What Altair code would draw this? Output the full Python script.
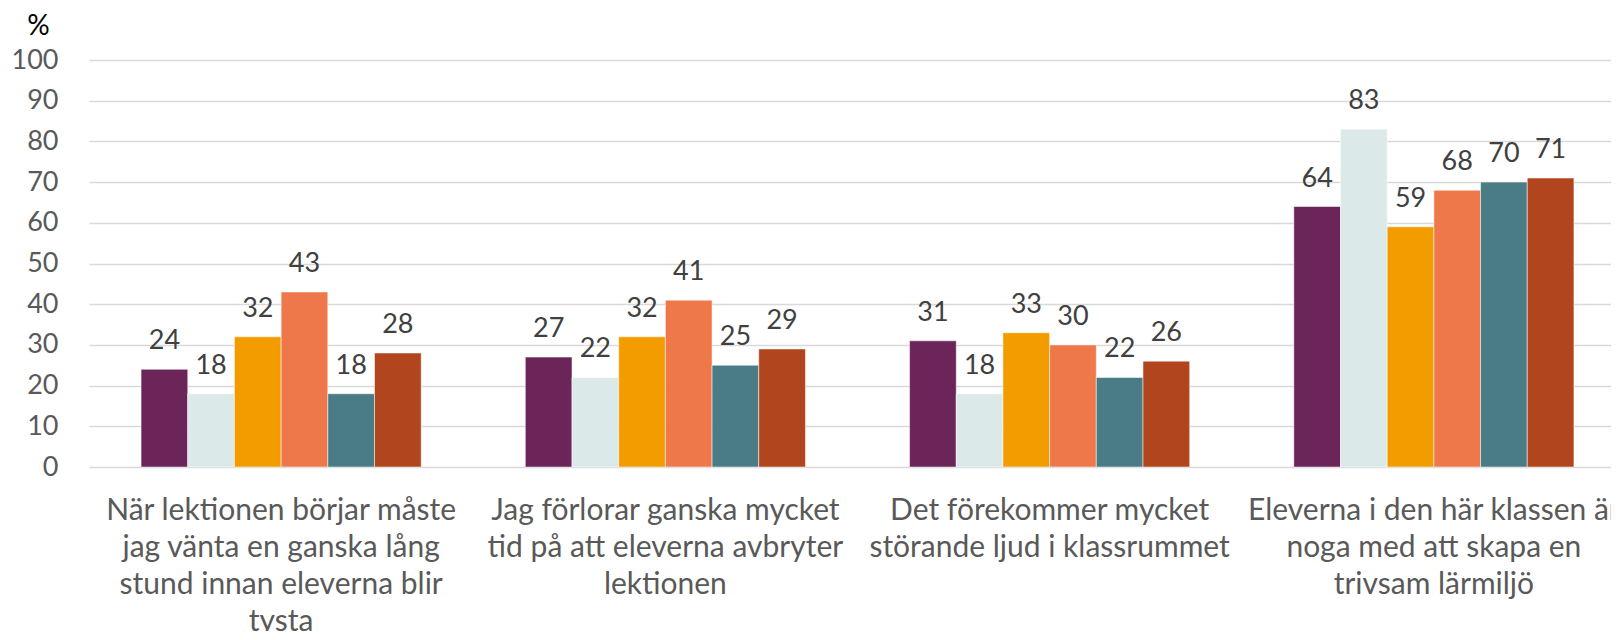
import altair as alt
import pandas as pd

categories = [
    "När lektionen börjar måste|jag vänta en ganska lång|stund innan eleverna blir|tysta",
    "Jag förlorar ganska mycket|tid på att eleverna avbryter|lektionen",
    "Det förekommer mycket|störande ljud i klassrummet",
    "Eleverna i den här klassen är|noga med att skapa en|trivsam lärmiljö",
]
series = ["Serie 1", "Serie 2", "Serie 3", "Serie 4", "Serie 5", "Serie 6"]
colors = ["#6B2558", "#DCE9E9", "#F39C00", "#EF784A", "#4A7C85", "#B0451E"]

values_s1 = [24, 27, 31, 64]
values_s2 = [18, 22, 18, 83]
values_s3 = [32, 32, 33, 59]
values_s4 = [43, 41, 30, 68]
values_s5 = [18, 25, 22, 70]
values_s6 = [28, 29, 26, 71]
all_values = [values_s1, values_s2, values_s3, values_s4, values_s5, values_s6]

rows = []
for s, vals in zip(series, all_values):
    for c, v in zip(categories, vals):
        rows.append({"cat": c, "series": s, "value": v})
df = pd.DataFrame(rows)

FONT = "Lato"

x = alt.X(
    "cat:N",
    sort=categories,
    scale=alt.Scale(paddingInner=0.271, paddingOuter=0.1355, range=[0, 1537]),
    axis=alt.Axis(
        title=None,
        labelExpr="split(datum.label, '|')",
        labelAngle=0,
        labelFont=FONT,
        labelFontSize=30,
        labelLineHeight=37,
        labelColor="#595959",
        labelBaseline="alphabetic",
        labelPadding=52,
        labelLimit=0,
        domain=False,
        ticks=False,
    ),
)
xo = alt.XOffset("series:N", sort=series, scale=alt.Scale(paddingInner=0, paddingOuter=0))
y = alt.Y(
    "value:Q",
    scale=alt.Scale(domain=[0, 100]),
    axis=alt.Axis(
        values=list(range(0, 101, 10)),
        title="%",
        titleAngle=0,
        titleX=-51,
        titleY=-34,
        titleAlign="center",
        titleBaseline="middle",
        titleFont=FONT,
        titleFontSize=28,
        titleFontWeight="normal",
        titleColor="#000000",
        labelFont=FONT,
        labelFontSize=27,
        labelColor="#595959",
        labelPadding=31,
        domain=False,
        ticks=False,
        gridColor="#D9D9D9",
        gridWidth=1.5,
    ),
)

bars = alt.Chart(df).mark_bar(stroke="white", strokeWidth=0.5).encode(
    x=x,
    xOffset=xo,
    y=y,
    color=alt.Color("series:N", sort=series, scale=alt.Scale(domain=series, range=colors), legend=None),
)
labels = alt.Chart(df).mark_text(
    dy=-20, baseline="alphabetic", font=FONT, fontSize=27, color="#404040"
).encode(x=x, xOffset=xo, y=y, text="value:Q")

chart = (
    alt.layer(bars, labels)
    .properties(
        width=1522,
        height=407,
        autosize=alt.AutoSizeParams(type="none"),
        padding={"left": 81, "top": 52, "right": 0, "bottom": 164},
    )
    .configure_view(stroke=None)
)

chart.save("out.html", embed_options={"renderer": "svg", "actions": False})
